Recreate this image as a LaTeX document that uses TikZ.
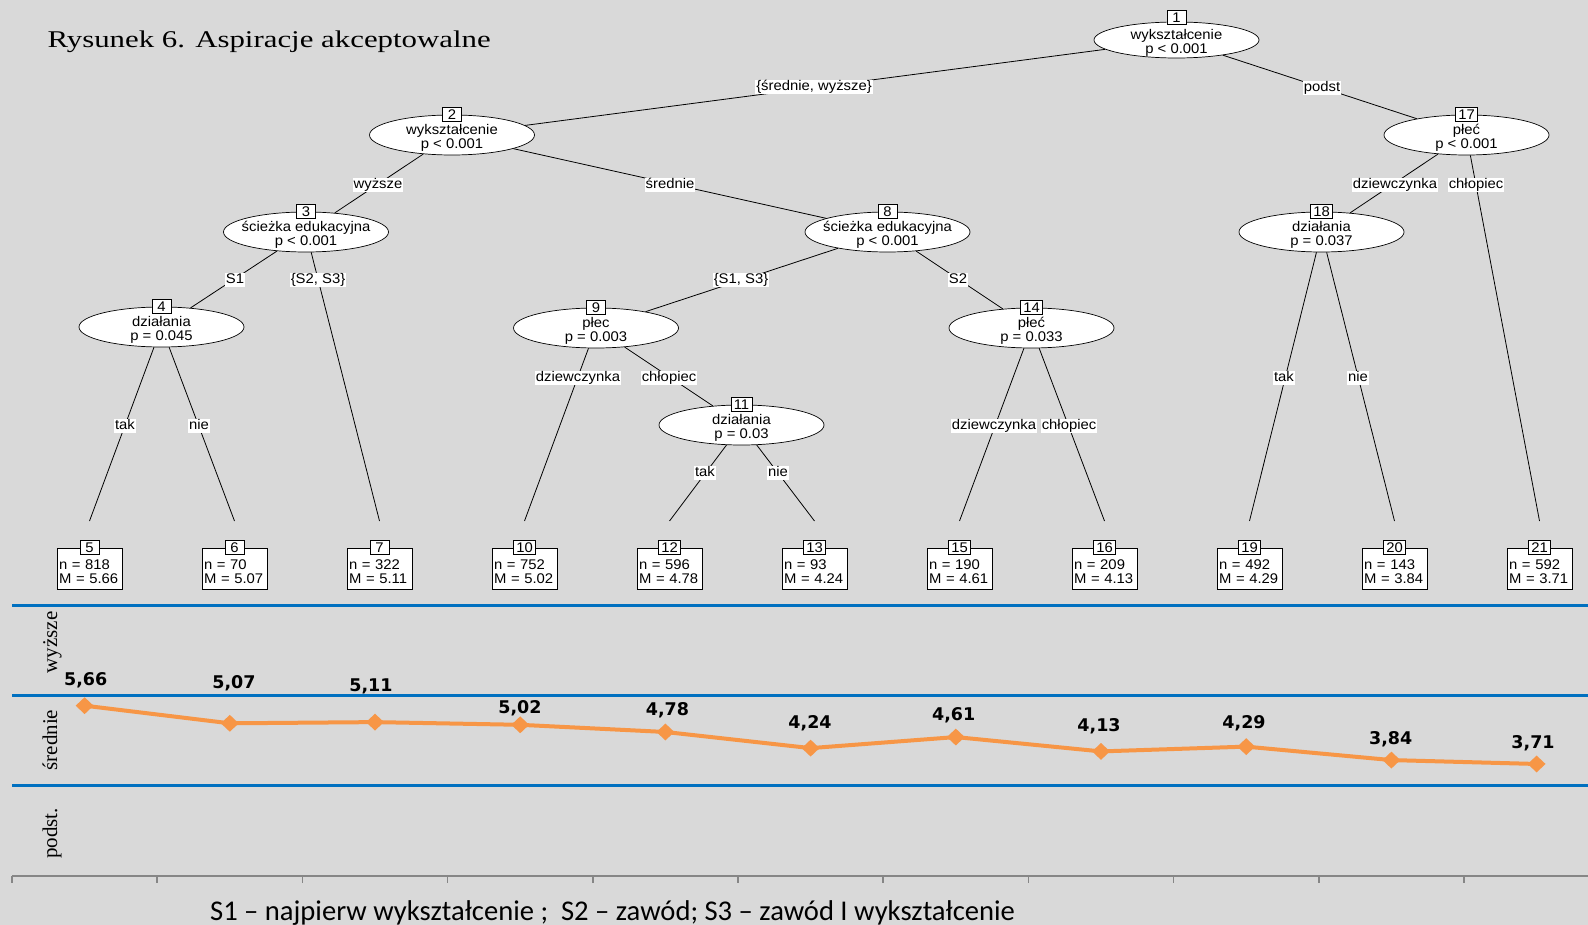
\documentclass[tikz,border=0pt]{standalone}
\usepackage{fontspec}
\usetikzlibrary{shapes.geometric,calc}
\newfontfamily\treefont[FakeStretch=1.06]{Liberation Sans}
\newfontfamily\titlefont[FakeStretch=1.285]{Liberation Serif}
\newfontfamily\axfont{Liberation Serif}
\newfontfamily\valfont{DejaVu Sans}
\newfontfamily\notefont{Carlito}
\definecolor{bgc}{HTML}{D9D9D9}
\definecolor{bluel}{HTML}{0070C0}
\definecolor{orng}{HTML}{F79646}
\definecolor{axgray}{HTML}{868686}
\begin{document}
\begin{tikzpicture}[x=1pt,y=-1pt,
  tf/.style={font=\treefont\fontsize{14}{14.2}\selectfont},
  split/.style={ellipse, draw, fill=white, minimum width=165pt, minimum height=40pt, inner sep=0pt, line width=0.7pt},
  stext/.style={tf, align=center, inner sep=0pt},
  numbox/.style={draw, fill=white, tf, inner xsep=2.75pt, inner ysep=2pt, minimum width=19pt, text height=10pt, text depth=0pt, line width=0.7pt},
  leaf/.style={draw, fill=white, minimum width=65pt, minimum height=41pt, inner sep=0pt, line width=0.7pt},
  ltext/.style={tf, align=left, text width=61pt, inner sep=0pt},
  elab/.style={fill=white, tf, inner xsep=0.8pt, inner ysep=0pt, text height=10.5pt, text depth=3pt},
  edge/.style={draw=black, line width=0.8pt},
  val/.style={font=\valfont\bfseries\fontsize{17.5}{20}\selectfont, inner sep=0pt},
  axl/.style={font=\axfont\fontsize{21}{24}\selectfont, inner sep=0pt, rotate=90, anchor=base},
  dmd/.style={diamond, fill=orng, minimum width=18pt, minimum height=17pt, inner sep=0pt}
]
\fill[bgc] (0,0) rectangle (1588,925);
\useasboundingbox (0,0) rectangle (1588,925);

% title
\node[anchor=base west, inner sep=0pt] (title) at (47.3,47.3)
  {\titlefont\fontsize{24}{28}\selectfont Rysunek 6. Aspiracje akceptowalne};

% inner nodes (ellipses)
\node[split, minimum height=36pt] (n1) at (1176.5,40) {};
\node[split] (n2) at (452,135) {};
\node[split] (n17) at (1466.5,135) {};
\node[split] (n3) at (306,232) {};
\node[split] (n8) at (887.5,232) {};
\node[split] (n18) at (1321.5,232) {};
\node[split] (n4) at (161.5,327) {};
\node[split] (n9) at (596,328) {};
\node[split] (n14) at (1031.5,328) {};
\node[split] (n11) at (741.5,425) {};

% ellipse texts
\foreach \n/\a/\b in {n1/wykształcenie/p < 0.001, n2/wykształcenie/p < 0.001, n17/płeć/p < 0.001,
  n3/ścieżka edukacyjna/p < 0.001, n8/ścieżka edukacyjna/p < 0.001, n18/działania/p = 0.037,
  n4/działania/p = 0.045, n9/płec/p = 0.003, n14/płeć/p = 0.033, n11/działania/p = 0.03}{
  \node[stext] (\n t) at ([yshift=-2.5pt]\n.center) {\a\\\b};
}

% leaves
\foreach \k/\num/\nn/\mm in {0/5/818/5.66, 1/6/70/5.07, 2/7/322/5.11, 3/10/752/5.02, 4/12/596/4.78, 5/13/93/4.24, 6/15/190/4.61, 7/16/209/4.13, 8/19/492/4.29, 9/20/143/3.84, 10/21/592/3.71}{
  \node[leaf] (l\num) at ({89.5+145*\k},568.5) {};
  \node[ltext] (l\num t) at ([yshift=-3pt]l\num.center) {n = \nn\\M = \mm};
  \coordinate (t\num) at ({89.5+145*\k},521);
}

% edges
\draw[edge] (n1) -- (n2);
\draw[edge] (n1) -- (n17);
\draw[edge] (n2) -- (n3);
\draw[edge] (n2) -- (n8);
\draw[edge] (n3) -- (n4);
\draw[edge] (n3) -- (t7);
\draw[edge] (n4) -- (t5);
\draw[edge] (n4) -- (t6);
\draw[edge] (n8) -- (n9);
\draw[edge] (n8) -- (n14);
\draw[edge] (n9) -- (t10);
\draw[edge] (n9) -- (n11);
\draw[edge] (n11) -- (t12);
\draw[edge] (n11) -- (t13);
\draw[edge] (n14) -- (t15);
\draw[edge] (n14) -- (t16);
\draw[edge] (n17) -- (n18);
\draw[edge] (n17) -- (t21);
\draw[edge] (n18) -- (t19);
\draw[edge] (n18) -- (t20);

% number boxes
\node[numbox] (b1) at ([yshift=4pt]n1.north) {1};
\foreach \n/\lab in {n2/2, n17/17, n3/3, n8/8, n18/18, n4/4, n9/9, n14/14, n11/11}{
  \node[numbox] (b\lab) at (\n.north) {\lab};
}
\foreach \num in {5,6,7,10,12,13,15,16,19,20,21}{
  \node[numbox] (b\num) at (l\num.north) {\num};
}

% edge labels
\node[elab] (e1) at (814,87) {\{średnie, wyższe\}};
\node[elab] (e2) at (1322,88) {podst};
\node[elab] (e3) at (378,185) {wyższe};
\node[elab] (e4) at (670,185) {średnie};
\node[elab] (e5) at (1395,185) {dziewczynka};
\node[elab] (e6) at (1476,185) {chłopiec};
\node[elab] (e7) at (235,280) {S1};
\node[elab] (e8) at (318,280) {\{S2, S3\}};
\node[elab] (e9) at (741,280) {\{S1, S3\}};
\node[elab] (e10) at (958,280) {S2};
\node[elab] (e11) at (1284,378) {tak};
\node[elab] (e12) at (1358,378) {nie};
\node[elab] (e13) at (578,378) {dziewczynka};
\node[elab] (e14) at (669,378) {chłopiec};
\node[elab] (e15) at (125,426) {tak};
\node[elab] (e16) at (199,426) {nie};
\node[elab] (e17) at (994,426) {dziewczynka};
\node[elab] (e18) at (1069,426) {chłopiec};
\node[elab] (e19) at (705,473) {tak};
\node[elab] (e20) at (778,473) {nie};

% chart
\foreach \y in {3,6,9}{
  \draw[bluel, line width=3pt] (12,{874.9-29.9*\y}) -- (1588,{874.9-29.9*\y});
}
\draw[axgray, line width=1.5pt] (12,876) -- (1588,876);
\foreach \k in {0,...,10}{
  \draw[axgray, line width=1.5pt] ({12+145.2*\k},876) -- ({12+145.2*\k},883);
}
\foreach \i/\v in {1/5.66, 2/5.07, 3/5.11, 4/5.02, 5/4.78, 6/4.24, 7/4.61, 8/4.13, 9/4.29, 10/3.84, 11/3.71}{
  \coordinate (p\i) at ({12+145.2*(\i-0.5)},{874.9-29.9*\v});
}
\draw[orng, line width=4pt, line join=round] (p1) -- (p2) -- (p3) -- (p4) -- (p5) -- (p6) -- (p7) -- (p8) -- (p9) -- (p10) -- (p11);
\foreach \i in {1,...,11}{
  \node[dmd] (d\i) at (p\i) {};
}
\node[val] (v1) at (85.7,680.7) {5,66};
\node[val] (v2) at (234,683.3) {5,07};
\node[val] (v3) at (371,686.7) {5,11};
\node[val] (v4) at (520,708) {5,02};
\node[val] (v5) at (667.5,710) {4,78};
\node[val] (v6) at (810,723.3) {4,24};
\node[val] (v7) at (953.7,715) {4,61};
\node[val] (v8) at (1099,726) {4,13};
\node[val] (v9) at (1244,723.3) {4,29};
\node[val] (v10) at (1390.7,739.3) {3,84};
\node[val] (v11) at (1533,743.3) {3,71};

% axis category labels
\node[axl] (a1) at (57,642.5) {wyższe};
\node[axl] (a2) at (57,740) {średnie};
\node[axl] (a3) at (57,833.5) {podst.};

% note
\node[anchor=base, inner sep=0pt] (note) at (612.5,920.5)
  {\notefont\fontsize{28.6}{32}\selectfont S1 – najpierw wykształcenie ;\ \ S2 – zawód; S3 – zawód I wykształcenie};
\end{tikzpicture}
\end{document}
